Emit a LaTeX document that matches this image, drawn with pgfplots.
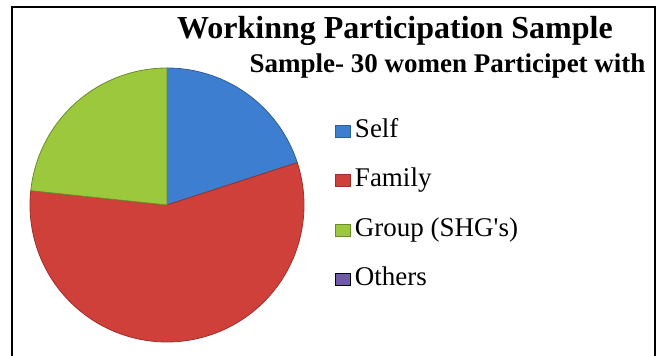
\documentclass[border=0pt]{standalone}
\usepackage{pgfplots}
\pgfplotsset{compat=1.18}
\usepackage{pgfplotstable}
\usepackage{fontspec}
\setmainfont{Liberation Serif}
\newfontfamily\plainserif{Liberation Serif}
\definecolor{selfblue}{RGB}{62,126,208}
\definecolor{famred}{RGB}{208,64,58}
\definecolor{grpgreen}{RGB}{155,200,60}
\definecolor{othpurple}{RGB}{112,88,170}
\pgfplotstableread{
label value
Self 6
Family 17
Group 7
Others 0
}\piedata
\pgfplotstablegetelem{0}{value}\of\piedata\edef\vA{\pgfplotsretval}
\pgfplotstablegetelem{1}{value}\of\piedata\edef\vB{\pgfplotsretval}
\pgfplotstablegetelem{2}{value}\of\piedata\edef\vC{\pgfplotsretval}
\pgfplotstablegetelem{3}{value}\of\piedata\edef\vD{\pgfplotsretval}
\pgfmathsetmacro\tot{\vA+\vB+\vC+\vD}
\pgfmathsetmacro\aZ{90}
\pgfmathsetmacro\aA{\aZ-360*\vA/\tot}
\pgfmathsetmacro\aB{\aA-360*\vB/\tot}
\pgfmathsetmacro\aC{\aB-360*\vC/\tot}
\begin{document}%
\begin{tikzpicture}
\useasboundingbox (0,0) rectangle (662pt,356pt);
\begin{axis}[
  at={(0pt,0pt)}, anchor=south west,
  scale only axis, width=662pt, height=356pt,
  xmin=0, xmax=662, ymin=0, ymax=356,
  hide axis, clip=false,
  legend style={at={(335/662,237/356)}, anchor=north west, draw=none, fill=none,
    inner sep=0pt, row sep=25.5pt, column sep=4pt,
    font=\fontsize{27}{27}\selectfont,
    nodes={inner sep=0pt, text height=18pt, text depth=6pt, anchor=base west}},
  legend image code/.code={\fill[#1] (0pt,0pt) rectangle (15pt,12pt);},
  legend cell align=left,
]
\addplot[fill=selfblue, draw=selfblue!75!black, line width=0.8pt, domain=\aA:\aZ, samples=90, variable=\t]
  ({167+137*cos(\t)},{151+137*sin(\t)}) -- (axis cs:167,151) -- cycle;
\addlegendentry{Self}
\addplot[fill=famred, draw=famred!75!black, line width=0.8pt, domain=\aB:\aA, samples=180, variable=\t]
  ({167+137*cos(\t)},{151+137*sin(\t)}) -- (axis cs:167,151) -- cycle;
\addlegendentry{Family}
\addplot[fill=grpgreen, draw=grpgreen!70!black, line width=0.8pt, domain=\aC:\aB, samples=90, variable=\t]
  ({167+137*cos(\t)},{151+137*sin(\t)}) -- (axis cs:167,151) -- cycle;
\addlegendentry{Group (SHG{\plainserif'}s)}
\addlegendimage{fill=othpurple}
\addlegendentry{Others}
\draw[line width=2pt] (axis cs:12,0) -- (axis cs:12,349) -- (axis cs:655,349) -- (axis cs:655,0);
\node[anchor=base, font=\bfseries\fontsize{32}{32}\selectfont, inner sep=0pt] at (axis cs:395,317) {Workinng Participation Sample};
\node[anchor=base, font=\bfseries\fontsize{27}{27}\selectfont, inner sep=0pt] at (axis cs:447.5,283) {Sample- 30 women Participet with};
\end{axis}
\end{tikzpicture}%
\end{document}
